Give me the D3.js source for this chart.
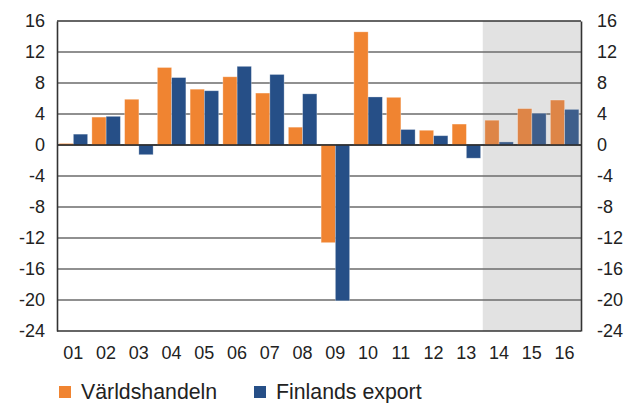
<!DOCTYPE html>
<html>
<head>
<meta charset="utf-8">
<script src="https://cdn.jsdelivr.net/npm/d3@7"></script>
<style>
  html, body { margin: 0; padding: 0; background: #fff; }
  svg { display: block; font-family: "Liberation Sans", Arial, sans-serif; }
</style>
</head>
<body>
<script>
const categories = ["01","02","03","04","05","06","07","08","09","10","11","12","13","14","15","16"];
const varldshandeln = [0.2, 3.6, 5.9, 10.0, 7.2, 8.8, 6.7, 2.3, -12.6, 14.6, 6.15, 1.9, 2.7, 3.2, 4.7, 5.8];
const finlandsExport = [1.4, 3.7, -1.25, 8.7, 7.0, 10.15, 9.1, 6.6, -20.1, 6.2, 2.0, 1.2, -1.7, 0.4, 4.1, 4.6];
const yTicks = [16, 12, 8, 4, 0, -4, -8, -12, -16, -20, -24];
const forecastCategories = ["14","15","16"];
const seriesNames = ["Världshandeln", "Finlands export"];

(function () {
const W = 627, H = 403;
const pLeft = 57, pRight = 581, pTop = 21, pBottom = 331;
const colors = { v: "#F08431", f: "#264F87" };
const forecastColors = { v: "#DE8547", f: "#3E5E8B" };

const svg = d3.select("body").append("svg").attr("width", W).attr("height", H);

const y = d3.scaleLinear().domain([-24, 16]).range([pBottom, pTop]);
const x0 = d3.scaleBand().domain(categories).range([pLeft, pRight]).paddingInner(0.13).paddingOuter(0.065);
const x1 = d3.scaleBand().domain(["v","f"]).range([0, x0.bandwidth()]);

// forecast shaded area
const fStart = x0(forecastCategories[0]) - x0.step() * x0.paddingInner() / 2;
svg.append("rect")
  .attr("x", fStart).attr("y", pTop)
  .attr("width", pRight - fStart).attr("height", pBottom - pTop)
  .attr("fill", "#E2E2E2");

// gridlines
svg.append("g").selectAll("line").data(yTicks).join("line")
  .attr("x1", pLeft).attr("x2", pRight)
  .attr("y1", d => y(d)).attr("y2", d => y(d))
  .attr("stroke", d => (d === 16 || d === -24) ? "#333" : "#6b6b6b")
  .attr("stroke-width", d => (d === 16 || d === -24) ? 1.6 : 1.4);

const data = categories.map((c, i) => ({ c, v: varldshandeln[i], f: finlandsExport[i], fc: forecastCategories.includes(c) }));

const groups = svg.append("g").selectAll("g").data(data).join("g")
  .attr("transform", d => `translate(${x0(d.c)},0)`);

groups.selectAll("rect").data(d => ["v","f"].map(k => ({ k, val: d[k], fc: d.fc }))).join("rect")
  .attr("x", d => x1(d.k))
  .attr("width", x1.bandwidth())
  .attr("y", d => y(Math.max(0, d.val)))
  .attr("height", d => Math.abs(y(d.val) - y(0)))
  .attr("fill", d => d.fc ? forecastColors[d.k] : colors[d.k])
  .attr("stroke", "rgba(255,255,255,0.35)")
  .attr("stroke-width", 0.8);

// zero line
svg.append("line")
  .attr("x1", pLeft).attr("x2", pRight).attr("y1", y(0)).attr("y2", y(0))
  .attr("stroke", "#222").attr("stroke-width", 1.6);

// axes
const fmt = d => String(d);
const yLeft = d3.axisLeft(y).tickValues(yTicks).tickSize(0).tickPadding(12).tickFormat(fmt);
const yRight = d3.axisRight(y).tickValues(yTicks).tickSize(0).tickPadding(16).tickFormat(fmt);
const gl = svg.append("g").attr("transform", `translate(${pLeft},0)`).call(yLeft);
const gr = svg.append("g").attr("transform", `translate(${pRight},0)`).call(yRight);
[gl, gr].forEach(g => {
  g.select(".domain").attr("stroke", "#333").attr("stroke-width", 1.6);
  g.selectAll("text").attr("font-size", 18).attr("fill", "#222").attr("font-family", "Liberation Sans, Arial, sans-serif");
});

const xAxis = d3.axisBottom(x0).tickSize(0).tickPadding(15);
const gx = svg.append("g").attr("transform", `translate(0,${pBottom})`).call(xAxis);
gx.select(".domain").remove();
gx.selectAll("text").attr("font-size", 18).attr("fill", "#222").attr("font-family", "Liberation Sans, Arial, sans-serif");

// legend
const legend = svg.append("g");
const legendX = [59, 254];
seriesNames.forEach((name, i) => {
  const g = legend.append("g").attr("transform", `translate(${legendX[i]},0)`);
  g.append("rect").attr("x", 0).attr("y", 386).attr("width", 12).attr("height", 12)
    .attr("fill", i === 0 ? colors.v : colors.f);
  g.append("text").attr("x", 22).attr("y", 399)
    .attr("font-size", 21.3).attr("fill", "#222").text(name);
});
})();
</script>
</body>
</html>
